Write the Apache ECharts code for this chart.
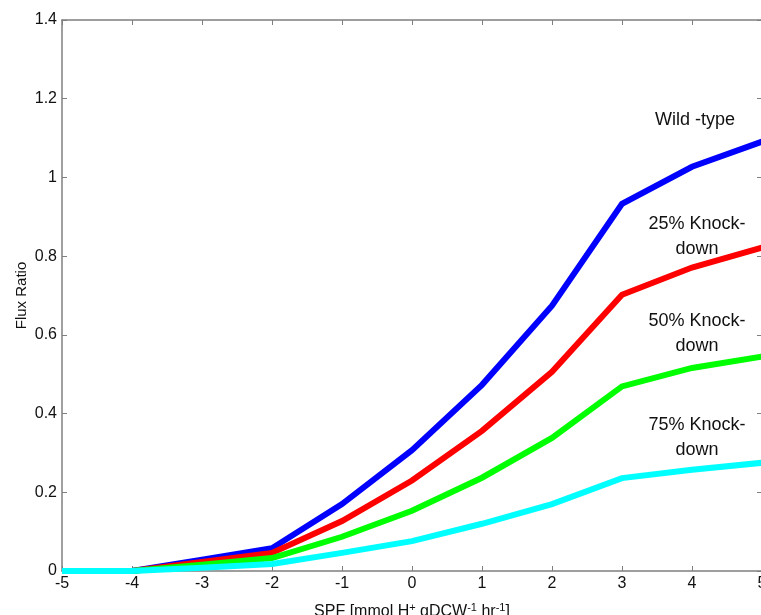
<!DOCTYPE html>
<html>
<head>
<meta charset="utf-8">
<script src="https://cdn.jsdelivr.net/npm/echarts@6/dist/echarts.min.js"></script>
<style>html,body{margin:0;padding:0;background:#fff;}#c{width:761px;height:615px;}</style>
</head>
<body>
<div id="c"></div>
<script>
var xValues = [-5, -4, -3, -2, -1, 0, 1, 2, 3, 4, 5];
var wildType = [0, 0, 0.029, 0.058, 0.17, 0.307, 0.473, 0.674, 0.933, 1.027, 1.091];
var kd25 = [0, 0, 0.023, 0.046, 0.127, 0.23, 0.356, 0.506, 0.702, 0.771, 0.822];
var kd50 = [0, 0, 0.016, 0.033, 0.087, 0.153, 0.237, 0.338, 0.469, 0.516, 0.545];
var kd75 = [0, 0, 0.008, 0.018, 0.046, 0.076, 0.12, 0.17, 0.236, 0.257, 0.275];
var seriesNames = ['Wild -type', '25% Knock-\ndown', '50% Knock-\ndown', '75% Knock-\ndown'];
var yTicks = [0, 0.2, 0.4, 0.6, 0.8, 1, 1.2, 1.4];

function pairs(ys) { return xValues.map(function (x, i) { return [x, ys[i]]; }); }

var font = '"Liberation Sans", Arial, Helvetica, sans-serif';
var axisColor = '#7f7f7f';
var chart = echarts.init(document.getElementById('c'));

function lineSeries(name, data, color) {
  return {
    name: name, type: 'line', data: pairs(data), showSymbol: false, symbol: 'none',
    lineStyle: { color: color, width: 6, join: 'miter' }, itemStyle: { color: color },
    animation: false, silent: true
  };
}

var labelStyle = { fill: '#111', fontSize: 18, fontFamily: font, textAlign: 'center', textVerticalAlign: 'middle', lineHeight: 25 };

chart.setOption({
  animation: false,
  grid: { left: 62, top: 20, width: 700, height: 551, containLabel: false, outerBoundsMode: 'none' },
  xAxis: [{
    type: 'value', min: -5, max: 5, interval: 1,
    axisLine: { show: true, onZero: false, lineStyle: { color: axisColor, width: 1.5 } },
    axisTick: { show: true, inside: true, length: 5, lineStyle: { color: axisColor } },
    axisLabel: { color: '#111', fontSize: 16, fontFamily: font, margin: 5 },
    splitLine: { show: false },
    name: 'SPF [mmol H{sup|+} gDCW{sup|-1} hr{sup|-1}]',
    nameLocation: 'middle', nameGap: 31, nameMoveOverlap: false,
    nameTextStyle: { color: '#111', fontSize: 16, fontFamily: font,
      rich: { sup: { fontSize: 11, verticalAlign: 'top', padding: [0, 0, 9, 0], color: '#111', fontFamily: font } } }
  }, {
    type: 'value', min: -5, max: 5, interval: 1, position: 'top',
    axisLine: { show: true, onZero: false, lineStyle: { color: axisColor, width: 1.5 } },
    axisTick: { show: true, inside: true, length: 5, lineStyle: { color: axisColor } },
    axisLabel: { show: false }, splitLine: { show: false }
  }],
  yAxis: [{
    type: 'value', min: 0, max: 1.4, interval: 0.2,
    axisLine: { show: true, onZero: false, lineStyle: { color: axisColor, width: 1.5 } },
    axisTick: { show: true, inside: true, length: 5, lineStyle: { color: axisColor } },
    axisLabel: { color: '#111', fontSize: 16, fontFamily: font, margin: 5,
      formatter: function (v) { var t = yTicks.find(function (k) { return Math.abs(k - v) < 1e-9; }); return t === undefined ? '' : String(t); } },
    splitLine: { show: false },
    name: 'Flux Ratio', nameLocation: 'middle', nameGap: 33, nameMoveOverlap: false,
    nameTextStyle: { color: '#111', fontSize: 15, fontFamily: font }
  }, {
    type: 'value', min: 0, max: 1.4, interval: 0.2, position: 'right',
    axisLine: { show: true, onZero: false, lineStyle: { color: axisColor, width: 1.5 } },
    axisTick: { show: true, inside: true, length: 5, lineStyle: { color: axisColor } },
    axisLabel: { show: false }, splitLine: { show: false }
  }],
  series: [
    lineSeries(seriesNames[0], wildType, '#0000ff'),
    lineSeries(seriesNames[1], kd25, '#ff0000'),
    lineSeries(seriesNames[2], kd50, '#00ff00'),
    lineSeries(seriesNames[3], kd75, '#00ffff')
  ],
  graphic: [
    { type: 'text', x: 695, y: 120, style: Object.assign({ text: seriesNames[0] }, labelStyle) },
    { type: 'text', x: 697, y: 237, style: Object.assign({ text: seriesNames[1] }, labelStyle) },
    { type: 'text', x: 697, y: 334, style: Object.assign({ text: seriesNames[2] }, labelStyle) },
    { type: 'text', x: 697, y: 438, style: Object.assign({ text: seriesNames[3] }, labelStyle) }
  ]
});
</script>
</body>
</html>
